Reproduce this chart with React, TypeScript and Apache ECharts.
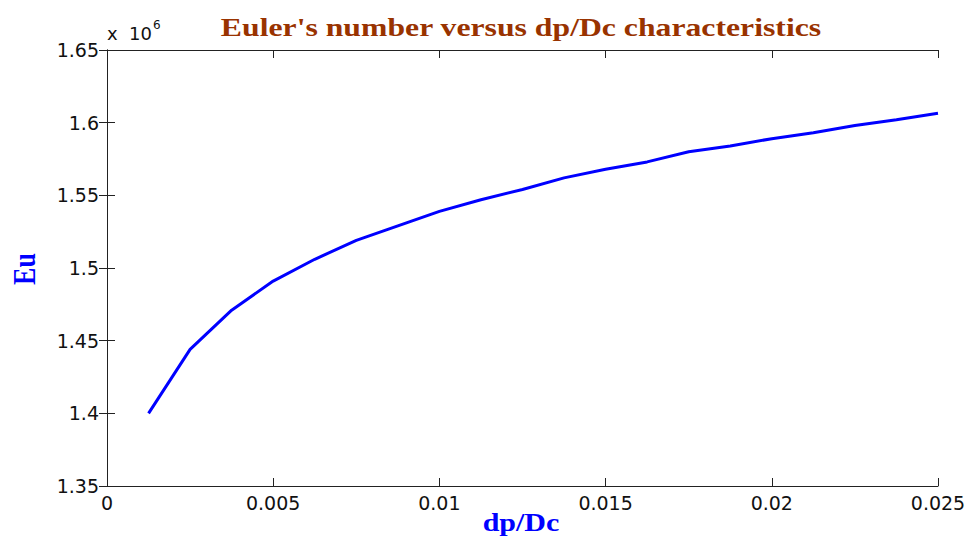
import React, { useEffect, useRef } from "react";
import * as echarts from "echarts";

const dpDc = [0.00125, 0.0025, 0.00375, 0.005, 0.00625, 0.0075, 0.00875, 0.01, 0.01125, 0.0125, 0.01375, 0.015, 0.01625, 0.0175, 0.01875, 0.02, 0.02125, 0.0225, 0.02375, 0.025];
const eu = [1400000, 1444000, 1471000, 1491000, 1506000, 1519000, 1529000, 1539000, 1547000, 1554000, 1562000, 1568000, 1573000, 1580000, 1584000, 1589000, 1593000, 1598000, 1602000, 1606500];
const xTicks = [0, 0.005, 0.01, 0.015, 0.02, 0.025];
const yTicks = [1.35, 1.4, 1.45, 1.5, 1.55, 1.6, 1.65];

const titleText = "Euler's number versus dp/Dc characteristics";
const xName = "dp/Dc";
const yName = "Eu";

export default function App() {
  const ref = useRef<HTMLDivElement>(null);
  useEffect(() => {
    if (!ref.current) return;
    const chart = echarts.init(ref.current, undefined, { renderer: "svg" });
    const axisLine = { show: true, lineStyle: { color: "#222", width: 1 } };
    const tickStyle = { show: true, inside: true, length: 8, lineStyle: { color: "#222", width: 1 } };
    const labelFont = { fontFamily: "DejaVu Sans, Arial, sans-serif", fontSize: 19, color: "#111" };
    const serif = "Liberation Serif, Times New Roman, serif";
    chart.setOption({
      animation: false,
      grid: { left: 107, right: 33, top: 50, bottom: 60, containLabel: false },
      graphic: [
        {
          type: "text",
          x: 521,
          y: 27,
          scaleX: 1.22,
          style: {
            text: titleText,
            fontFamily: serif,
            fontWeight: "bold",
            fontSize: 26,
            fill: "#993300",
            textAlign: "center",
            textVerticalAlign: "middle",
          },
        },
        {
          type: "text",
          x: 107,
          y: 33,
          style: {
            text: "x  10{s|6}",
            rich: { s: { fontSize: 12, verticalAlign: "top", padding: [0, 0, 16, 1], fontFamily: "DejaVu Sans, Arial, sans-serif", fill: "#111" } },
            fontFamily: "DejaVu Sans, Arial, sans-serif",
            fontSize: 18,
            fill: "#111",
            textVerticalAlign: "middle",
          },
        },
        {
          type: "text",
          x: 521,
          y: 522,
          scaleX: 1.2,
          style: {
            text: xName,
            fontFamily: serif,
            fontWeight: "bold",
            fontSize: 25,
            fill: "#0000FF",
            textAlign: "center",
            textVerticalAlign: "middle",
          },
        },
        {
          type: "text",
          x: 24,
          y: 269,
          rotation: Math.PI / 2,
          scaleY: 1.2,
          style: {
            text: yName,
            fontFamily: serif,
            fontWeight: "bold",
            fontSize: 26,
            fill: "#0000FF",
            textAlign: "center",
            textVerticalAlign: "middle",
          },
        },
      ],
      xAxis: [
        {
          type: "value",
          min: 0,
          max: 0.025,
          interval: 0.005,
          position: "bottom",
          axisLine,
          axisTick: tickStyle,
          splitLine: { show: false },
          axisLabel: {
            ...labelFont,
            margin: 7,
            formatter: (v: number) => {
              const t = xTicks.find((x) => Math.abs(x - v) < 1e-9);
              return t === undefined ? "" : String(t);
            },
          },
        },
        {
          type: "value",
          min: 0,
          max: 0.025,
          interval: 0.005,
          position: "top",
          axisLine,
          axisTick: tickStyle,
          splitLine: { show: false },
          axisLabel: { show: false },
        },
      ],
      yAxis: [
        {
          type: "value",
          min: 1350000,
          max: 1650000,
          interval: 50000,
          position: "left",
          axisLine,
          axisTick: tickStyle,
          splitLine: { show: false },
          axisLabel: {
            ...labelFont,
            margin: 8,
            formatter: (v: number) => {
              const t = yTicks.find((y) => Math.abs(y * 1e6 - v) < 1);
              return t === undefined ? "" : String(t);
            },
          },
        },
        {
          type: "value",
          min: 1350000,
          max: 1650000,
          interval: 50000,
          position: "right",
          axisLine,
          axisTick: tickStyle,
          splitLine: { show: false },
          axisLabel: { show: false },
        },
      ],
      series: [
        {
          type: "line",
          data: dpDc.map((x, i) => [x, eu[i]]),
          xAxisIndex: 0,
          yAxisIndex: 0,
          showSymbol: false,
          symbol: "none",
          lineStyle: { color: "#0000FF", width: 3 },
          itemStyle: { color: "#0000FF" },
        },
      ],
    });
    return () => chart.dispose();
  }, []);
  return <div ref={ref} style={{ position: "absolute", left: 0, top: 0, width: 971, height: 546 }} />;
}
